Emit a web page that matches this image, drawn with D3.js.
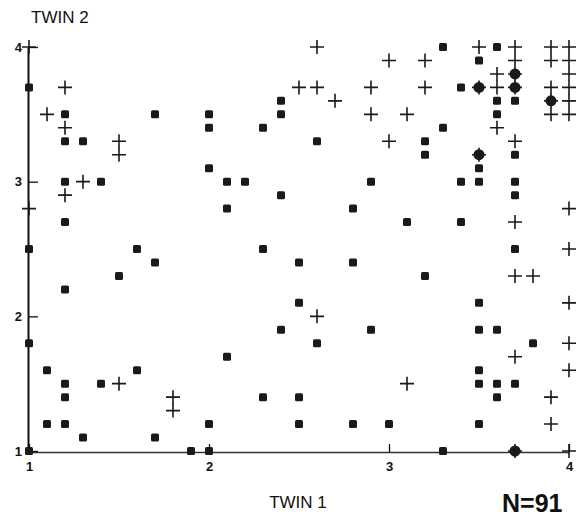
<!DOCTYPE html>
<meta charset="utf-8">
<style>
body { margin: 0; background: #fff; font-family: "Liberation Sans", Arial, sans-serif; }
.axis text { font-size: 13px; font-weight: bold; fill: #111; }
.axis path, .axis line { stroke: #111; }
.y.axis path { stroke-width: 2; }
.x.axis path { stroke-width: 1.3; stroke: #333; }
.axis line { stroke-width: 1.3; }
.sq { fill: #1a1a1a; }
.plus { stroke: #1a1a1a; stroke-width: 1.6; fill: none; }
.both { fill: #1a1a1a; }
</style>
<body>
<script src="https://d3js.org/d3.v7.min.js"></script>
<script>
// twin 1 score, twin 2 score
var squares = [
  [1,3.7],[1.2,3.5],[1.7,3.5],[1.2,3.3],[1.3,3.3],[1.2,3.0],[1.4,3.0],
  [1.2,2.7],[1,2.5],[1.6,2.5],[1.7,2.4],[1.5,2.3],[1.2,2.2],
  [1,1.8],[1.1,1.6],[1.2,1.5],[1.2,1.4],[1.4,1.5],[1.6,1.6],[1.1,1.2],[1.2,1.2],
  [1.3,1.1],[1.7,1.1],[1,1],[1.9,1],[2,1],
  [2.4,3.6],[2.4,3.5],[2,3.5],[2,3.4],[2.3,3.4],[2.6,3.3],[2,3.1],[2.1,3.0],[2.2,3.0],[2.9,3.0],
  [2.4,2.9],[2.1,2.8],[2.8,2.8],[2.3,2.5],[2.5,2.4],[2.8,2.4],[2.5,2.1],
  [2.4,1.9],[2.9,1.9],[2.6,1.8],[2.1,1.7],[2.3,1.4],[2.5,1.4],[2,1.2],[2.5,1.2],[2.8,1.2],
  [3.3,4],[3.6,4],[3.5,3.9],[3.4,3.7],[3.6,3.6],[3.7,3.6],[3.6,3.5],[3.3,3.4],[3.2,3.3],
  [3.2,3.2],[3.7,3.2],[3.5,3.1],[3.4,3.0],[3.5,3.0],[3.7,3.0],[3.7,2.9],[3.1,2.7],[3.4,2.7],
  [3.7,2.5],[3.2,2.3],[3.5,2.1],[3.5,1.9],[3.6,1.9],[3.8,1.8],[3.5,1.6],[3.5,1.5],[3.6,1.5],
  [3.7,1.5],[3.6,1.4],[3,1.2],[3.5,1.2],[3.3,1]
];
var pluses = [
  [1,4],[1.2,3.7],[1.1,3.5],[1.2,3.4],[1.5,3.3],[1.5,3.2],[1.3,3.0],[1.2,2.9],[1,2.8],
  [1.5,1.5],[1.8,1.4],[1.8,1.3],
  [2.6,4],[2.5,3.7],[2.6,3.7],[2.7,3.6],[2.9,3.7],[2.9,3.5],[2.6,2.0],
  [3.5,4],[3.7,4],[3.9,4],[4,4],[3,3.9],[3.2,3.9],[3.7,3.9],[3.9,3.9],[4,3.9],[3.6,3.8],[4,3.8],
  [3.2,3.7],[3.6,3.7],[3.9,3.7],[4,3.7],[4,3.6],[3.1,3.5],[3.9,3.5],[4,3.5],[3.6,3.4],
  [3,3.3],[3.7,3.3],[4,2.8],[3.7,2.7],[4,2.5],[3.7,2.3],[3.8,2.3],[4,2.1],[4,1.8],[3.7,1.7],
  [4,1.6],[3.1,1.5],[3.9,1.4],[3.9,1.2],[4,1]
];
// pairs where a square and a plus fall on the same spot
var both = [[3.7,3.8],[3.5,3.7],[3.7,3.7],[3.9,3.6],[3.5,3.2],[3.7,1]];

var xTicks = [1, 2, 3, 4];
var yTicks = [1, 2, 3, 4];

var svg = d3.select("body").append("svg")
  .attr("width", 581).attr("height", 519);

var x = d3.scaleLinear().domain([1, 4]).range([29, 569]);
var y = d3.scaleLinear().domain([1, 4]).range([451, 47]);

svg.append("g")
  .attr("class", "x axis")
  .attr("transform", "translate(0,452)")
  .call(d3.axisBottom(x).tickValues(xTicks).tickSize(-8).tickSizeOuter(0).tickPadding(10).tickFormat(d3.format("d")));

svg.append("g")
  .attr("class", "y axis")
  .attr("transform", "translate(28,0)")
  .call(d3.axisLeft(y).tickValues(yTicks).tickSize(-10).tickSizeOuter(0).tickPadding(6).tickFormat(d3.format("d")));

// squares
svg.selectAll("rect.sq")
  .data(squares)
  .enter().append("rect")
  .attr("class", "sq")
  .attr("x", d => x(d[0]) - 4)
  .attr("y", d => y(d[1]) - 4)
  .attr("width", 8).attr("height", 8)
  .attr("rx", 1.5);

// overlap dots
svg.selectAll("circle.both")
  .data(both)
  .enter().append("circle")
  .attr("class", "both")
  .attr("cx", d => x(d[0]))
  .attr("cy", d => y(d[1]))
  .attr("r", 5.5);

// pluses (drawn on top)
var plusPath = d => {
  var px = x(d[0]), py = y(d[1]);
  return "M" + (px - 7) + "," + py + "H" + (px + 7) + "M" + px + "," + (py - 7) + "V" + (py + 7);
};
svg.selectAll("path.plus")
  .data(pluses.concat(both))
  .enter().append("path")
  .attr("class", "plus")
  .attr("d", plusPath);

svg.append("text")
  .attr("x", 31).attr("y", 23)
  .style("font-size", "17px").style("fill", "#111")
  .text("TWIN 2");

svg.append("text")
  .attr("x", 298).attr("y", 508)
  .attr("text-anchor", "middle")
  .style("font-size", "17px").style("fill", "#111")
  .text("TWIN 1");

svg.append("text")
  .attr("x", 502).attr("y", 512)
  .style("font-size", "25px").style("font-weight", "bold").style("fill", "#111")
  .text("N=91");
</script>
